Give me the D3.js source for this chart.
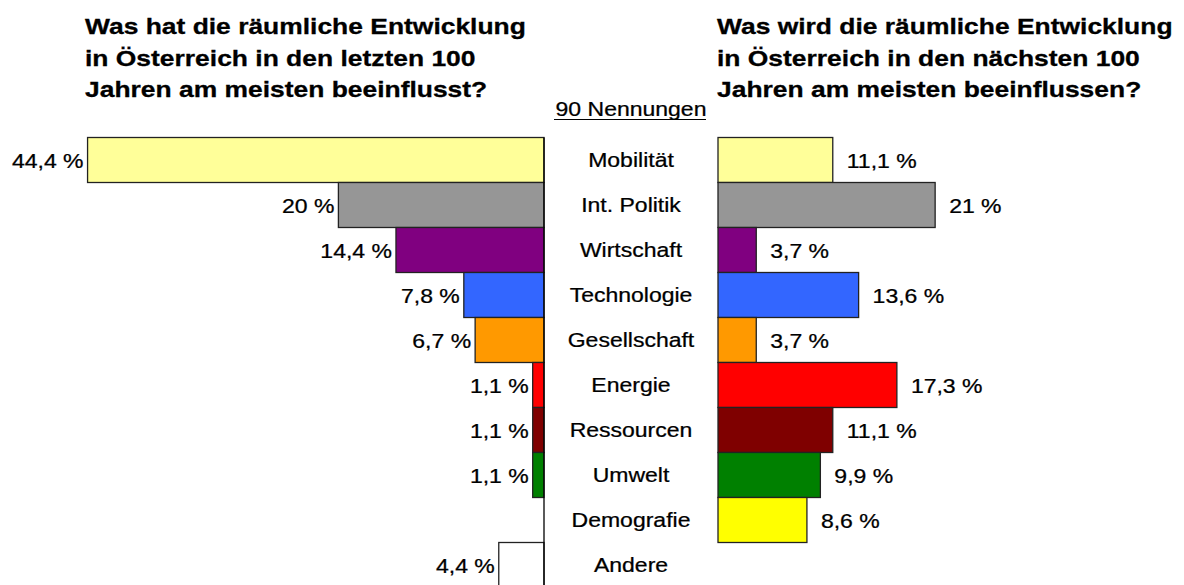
<!DOCTYPE html>
<html>
<head>
<meta charset="utf-8">
<script src="https://cdn.jsdelivr.net/npm/d3@7"></script>
<style>
  html, body { margin: 0; padding: 0; background: #fff; }
  svg { display: block; font-family: Arial, "Liberation Sans", sans-serif; }
</style>
</head>
<body>
<svg id="chart" width="1184" height="585"></svg>
<script>
const categories = ['Mobilität', 'Int. Politik', 'Wirtschaft', 'Technologie', 'Gesellschaft',
  'Energie', 'Ressourcen', 'Umwelt', 'Demografie', 'Andere']
const pastValues = [44.4, 20, 14.4, 7.8, 6.7, 1.1, 1.1, 1.1, 0, 4.4]
const futureValues = [11.1, 21, 3.7, 13.6, 3.7, 17.3, 11.1, 9.9, 8.6, 0]
const barColors = ['#FFFF99', '#969696', '#800080', '#3366FF', '#FF9900',
  '#FF0000', '#7F0000', '#008000', '#FFFF00', '#FFFFFF']
const leftTitle = ['Was hat die räumliche Entwicklung', 'in Österreich in den letzten 100', 'Jahren am meisten beeinflusst?']
const rightTitle = ['Was wird die räumliche Entwicklung', 'in Österreich in den nächsten 100', 'Jahren am meisten beeinflussen?']
const countLabel = '90 Nennungen'

const width = 1184
const height = 585
const stretch = 1.18 // text in the original is horizontally stretched

const svg = d3.select('#chart')

const y = d3.scaleBand()
  .domain(categories)
  .range([137.5, 587.5])
  .padding(0)

const xLeft = d3.scaleLinear().domain([0, 50]).range([544, 30])
const xRight = d3.scaleLinear().domain([0, 50]).range([718, 1235])

const fmt = v => d3.format('~r')(v).replace('.', ',') + ' %'

const rows = categories.map((c, i) => ({
  cat: c, past: pastValues[i], future: futureValues[i], color: barColors[i]
}))

function addText(parent, x, yy, txt, size, anchor, weight) {
  return parent.append('text')
    .attr('transform', `translate(${x},${yy}) scale(${stretch},1)`)
    .attr('text-anchor', anchor)
    .attr('font-size', size)
    .attr('font-weight', weight || 'normal')
    .attr('fill', '#000')
    .attr('stroke', '#000')
    .attr('stroke-width', weight === 'bold' ? 0.3 : 0.25)
    .text(txt)
}

// ------------------
// Titles
// ------------------
leftTitle.forEach((t, i) => addText(svg, 85, 34 + i * 31.5, t, 22.4, 'start', 'bold'))
rightTitle.forEach((t, i) => addText(svg, 717, 34 + i * 31.5, t, 22.4, 'start', 'bold'))

const midX = (xLeft(0) + xRight(0)) / 2
addText(svg, midX, 116, countLabel, 19.5, 'middle')
svg.append('line')
  .attr('x1', 554).attr('x2', 706)
  .attr('y1', 119.5).attr('y2', 119.5)
  .attr('stroke', '#000')
  .attr('stroke-width', 1)

// ------------------
// Left bars (past)
// ------------------
svg.selectAll('.past-bar')
  .data(rows.filter(d => d.past > 0))
  .enter()
  .append('rect')
  .attr('class', 'past-bar')
  .attr('x', d => xLeft(d.past))
  .attr('y', d => y(d.cat))
  .attr('width', d => xLeft(0) - xLeft(d.past))
  .attr('height', y.bandwidth())
  .attr('fill', d => d.color)
  .attr('stroke', '#222')
  .attr('stroke-width', 1.3)

svg.append('line')
  .attr('x1', xLeft(0)).attr('x2', xLeft(0))
  .attr('y1', y.range()[0]).attr('y2', height)
  .attr('stroke', '#000')
  .attr('stroke-width', 1.3)

rows.filter(d => d.past > 0).forEach(d => {
  addText(svg, xLeft(d.past) - 4, y(d.cat) + y.bandwidth() / 2 + 7.5, fmt(d.past), 19.5, 'end')
})

// ------------------
// Right bars (future)
// ------------------
svg.selectAll('.future-bar')
  .data(rows.filter(d => d.future > 0))
  .enter()
  .append('rect')
  .attr('class', 'future-bar')
  .attr('x', xRight(0))
  .attr('y', d => y(d.cat))
  .attr('width', d => xRight(d.future) - xRight(0))
  .attr('height', y.bandwidth())
  .attr('fill', d => d.color)
  .attr('stroke', '#222')
  .attr('stroke-width', 1.3)

rows.filter(d => d.future > 0).forEach(d => {
  addText(svg, xRight(d.future) + 14, y(d.cat) + y.bandwidth() / 2 + 7.5, fmt(d.future), 19.5, 'start')
})

// ------------------
// Category labels
// ------------------
rows.forEach(d => {
  addText(svg, midX, y(d.cat) + y.bandwidth() / 2 + 7, d.cat, 19.5, 'middle')
})
</script>
</body>
</html>
